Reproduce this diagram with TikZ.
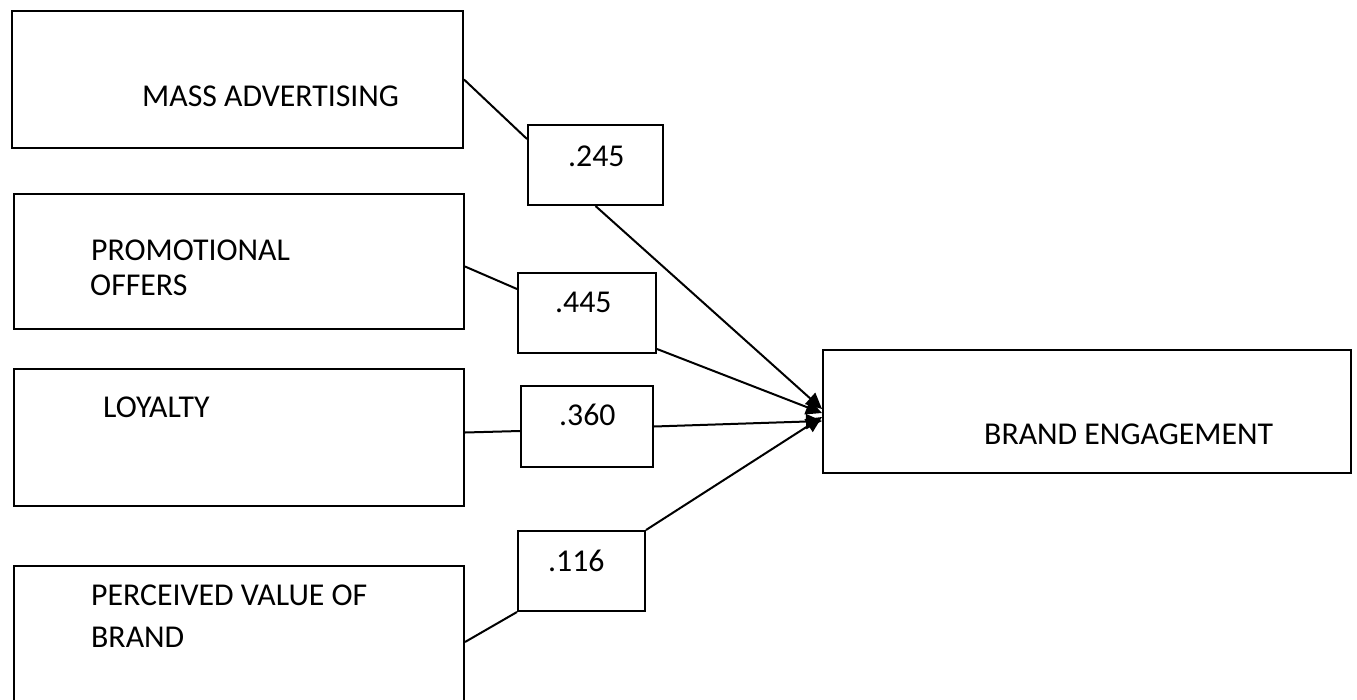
\documentclass[tikz,border=0pt]{standalone}
\usepackage{fontspec}
\setmainfont{Carlito}
\usetikzlibrary{arrows.meta}
\begin{document}
\begin{tikzpicture}[x=1pt,y=-1pt,
  box/.style={draw, line width=2pt, anchor=north west, inner sep=0pt},
  txt/.style={anchor=base west, inner sep=0pt, font=\fontsize{31.8}{36}\selectfont},
  conn/.style={line width=2pt},
  arr/.style={line width=2pt, -{Triangle[length=16pt,width=15pt]}}]
\useasboundingbox (0,0) rectangle (1357,699);
% main boxes
\node[box, minimum width=451pt, minimum height=137pt] (mass) at (11,10) {};
\node[box, minimum width=450pt, minimum height=135pt] (promo) at (13,193) {};
\node[box, minimum width=450pt, minimum height=137pt] (loyal) at (13,368) {};
\node[box, minimum width=450pt, minimum height=145pt] (perc) at (13,565) {};
\node[box, minimum width=528pt, minimum height=123pt] (brand) at (822,349) {};
% value boxes
\node[box, minimum width=135pt, minimum height=80pt] (v245) at (527,124) {};
\node[box, minimum width=138pt, minimum height=80pt] (v445) at (517,272) {};
\node[box, minimum width=132pt, minimum height=81pt] (v360) at (520,385) {};
\node[box, minimum width=127pt, minimum height=80pt] (v116) at (517,530) {};
% texts
\node[txt] (tmass) at (142,106) {MASS ADVERTISING};
\node[txt] (tpromo1) at (91,260) {PROMOTIONAL};
\node[txt] (tpromo2) at (90,295) {OFFERS};
\node[txt] (tloyal) at (103,417) {LOYALTY};
\node[txt] (tperc1) at (91,605) {PERCEIVED VALUE OF};
\node[txt] (tperc2) at (91,647) {BRAND};
\node[txt] (tbrand) at (984,444) {BRAND ENGAGEMENT};
\node[txt] (t245) at (568,166) {.245};
\node[txt] (t445) at (555,312) {.445};
\node[txt] (t360) at (559,425) {.360};
\node[txt] (t116) at (548,571) {.116};
% connectors
\draw[conn] (mass.east) -- ([yshift=-15pt]v245.north west);
\draw[arr] (v245.south) -- ([yshift=2.5pt]brand.west);
\draw[conn] ([yshift=-5pt]promo.east) -- ([yshift=-17pt]v445.north west);
\draw[arr] ([yshift=5pt]v445.south east) -- ([yshift=-1.5pt]brand.west);
\draw[conn] ([yshift=5pt]loyal.east) -- ([yshift=-4.5pt]v360.west);
\draw[arr] (v360.east) -- ([yshift=-9.5pt]brand.west);
\draw[conn] ([yshift=-77pt]perc.north east) -- (v116.south west);
\draw[arr] (v116.north east) -- ([yshift=-5.5pt]brand.west);
\end{tikzpicture}
\end{document}
